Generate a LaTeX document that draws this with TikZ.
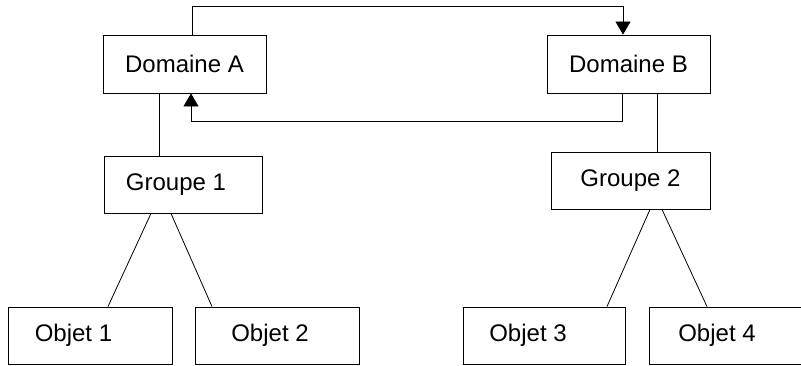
\documentclass[tikz,border=0pt]{standalone}
\usepackage{fontspec}
\setmainfont{Liberation Sans}
\usepackage{tikz}
\usetikzlibrary{arrows.meta,calc,positioning}

\begin{document}
\begin{tikzpicture}[x=1pt,y=1pt,
        box/.style={draw, line width=0.9pt, minimum height=57pt, inner sep=0pt, font=\fontsize{24pt}{28pt}\selectfont},
        link/.style={line width=0.8pt},
        arr/.style={line width=0.8pt,-{Triangle[length=13pt,width=15pt]}}]
        \useasboundingbox (0, 0) rectangle (801, -365);

        % domains
        \node[box, minimum width=163pt, minimum height=58pt] (domA) at (184.5, -64) {Domaine A};
        \node[box, minimum width=163pt, minimum height=58pt] (domB) at (628.5, -64) {Domaine B};

        % groups
        \node[box, minimum width=158pt] (grp1) at (183, -184.5) {\hspace{-14pt}Groupe 1};
        \node[box, minimum width=159pt] (grp2) at (630.5, -180.5) {Groupe 2};

        % objects
        \node[box, minimum width=164pt] (obj1) at (90, -335.5) {\hspace{-33pt}Objet 1};
        \node[box, minimum width=164pt] (obj2) at (277, -335.5) {\hspace{-14pt}Objet 2};
        \node[box, minimum width=162pt] (obj3) at (544, -335.5) {\hspace{-32pt}Objet 3};
        \node[box, minimum width=190pt] (obj4) at (744, -335.5) {\hspace{-54pt}Objet 4};

        \draw[arr] ([xshift=7.5pt]domA.north) -- ++(0, 28) -| ([xshift=-5.5pt]domB.north);
        \draw[arr] ([xshift=-6.5pt]domB.south) -- ++(0, -28) -| ([xshift=6.5pt]domA.south);

        \draw[link] ([xshift=-24pt]grp1.north) -- ([xshift=-24pt]grp1.north |- domA.south);
        \draw[link] ([xshift=26.5pt]grp2.north) -- ([xshift=26.5pt]grp2.north |- domB.south);

        \draw[link] ([xshift=-32pt]grp1.south) -- ([xshift=18pt]obj1.north);
        \draw[link] ([xshift=-12pt]grp1.south) -- ([xshift=-65pt]obj2.north);
        \draw[link] ([xshift=19.5pt]grp2.south) -- ([xshift=63pt]obj3.north);
        \draw[link] ([xshift=31.5pt]grp2.south) -- ([xshift=-37pt]obj4.north);
\end{tikzpicture}
\end{document}
